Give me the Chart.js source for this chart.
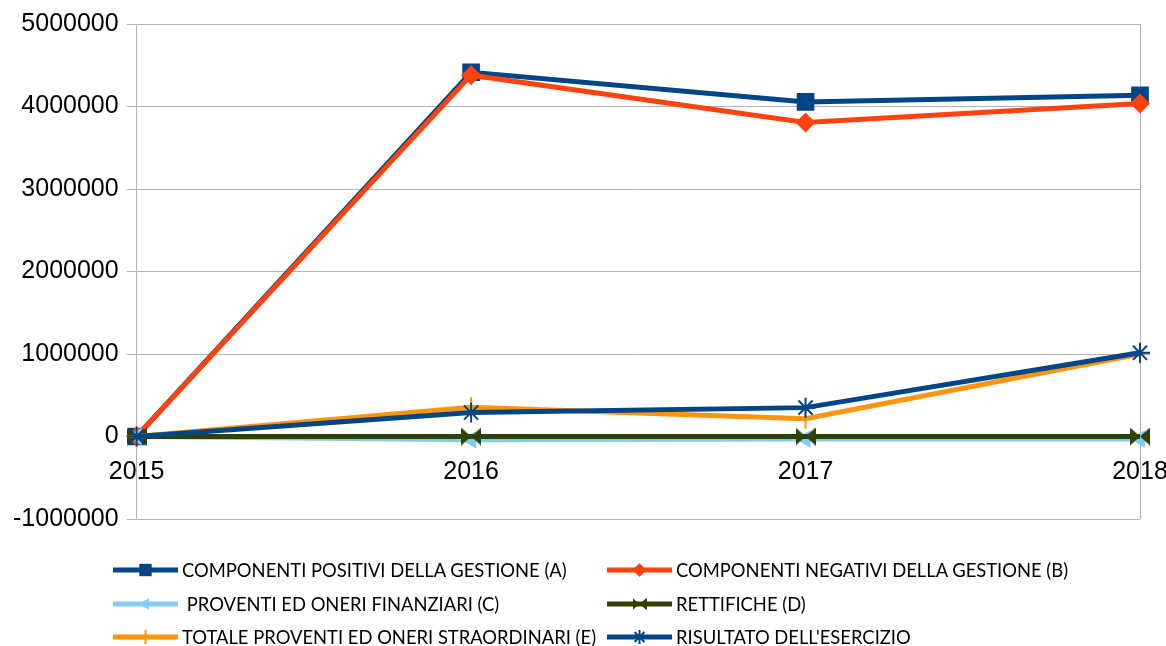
<!DOCTYPE html>
<html><head><meta charset="utf-8">
<script src="https://cdn.jsdelivr.net/npm/chart.js@4/dist/chart.umd.min.js"></script>
<style>
html,body{margin:0;padding:0;background:#fff;}
#wrap{position:relative;width:1166px;height:646px;overflow:hidden;}
#c{position:absolute;left:0;top:0;}
.leg{position:absolute;display:flex;align-items:center;height:24px;font-family:Lato,'Liberation Sans',sans-serif;font-size:18.4px;color:#000;white-space:pre;}
.leg canvas{display:block;margin-right:4px;}
</style></head><body>
<div id="wrap"><canvas id="c" width="1166" height="646"></canvas></div>
<script>
// ---- data ----
const years = ['2015', '2016', '2017', '2018'];
const seriesNames = [
  'COMPONENTI POSITIVI DELLA GESTIONE (A)',
  'COMPONENTI NEGATIVI DELLA GESTIONE (B)',
  ' PROVENTI ED ONERI FINANZIARI (C)',
  'RETTIFICHE (D)',
  'TOTALE PROVENTI ED ONERI STRAORDINARI (E)',
  "RISULTATO DELL'ESERCIZIO"
];
const componentiPositivi = [0, 4415000, 4055000, 4135000];
const componentiNegativi = [0, 4380000, 3805000, 4035000];
const proventiFinanziari = [0, -40000, -30000, -30000];
const rettifiche = [0, 0, 0, 0];
const proventiStraordinari = [0, 355000, 215000, 1000000];
const risultato = [0, 290000, 350000, 1015000];
const yMin = -1000000, yMax = 5000000, yStep = 1000000;

// ---- styles ----
const colors = ['#004586', '#ff420e', '#83caff', '#314004', '#ff950e', '#004586'];

function bowtie(color, w, h) {
  const c = document.createElement('canvas');
  c.width = w; c.height = h;
  const g = c.getContext('2d');
  g.fillStyle = color;
  g.beginPath();
  g.moveTo(0, 0); g.lineTo(w / 2, h / 2); g.lineTo(0, h); g.closePath();
  g.moveTo(w, 0); g.lineTo(w / 2, h / 2); g.lineTo(w, h); g.closePath();
  g.fill();
  return c;
}

const markers = [
  {style: 'rect', radius: 12.5, rot: 0, bw: 0},
  {style: 'rectRot', radius: 10, rot: 0, bw: 0},
  {style: 'triangle', radius: 10, rot: -90, bw: 0},
  {style: bowtie(colors[3], 20, 18), radius: 10, rot: 0, bw: 0},
  {style: 'cross', radius: 10, rot: 0, bw: 2},
  {style: 'star', radius: 10, rot: 0, bw: 2}
];
const seriesValues = [componentiPositivi, componentiNegativi, proventiFinanziari, rettifiche, proventiStraordinari, risultato];

const datasets = seriesValues.map((vals, i) => ({
  label: seriesNames[i],
  data: vals,
  borderColor: colors[i],
  backgroundColor: colors[i],
  borderWidth: 5,
  tension: 0,
  fill: false,
  pointStyle: markers[i].style,
  pointRadius: markers[i].radius,
  pointHoverRadius: markers[i].radius,
  pointRotation: markers[i].rot,
  pointBorderWidth: markers[i].bw,
  pointBorderColor: colors[i],
  pointBackgroundColor: colors[i],
  order: seriesValues.length - i
}));

const gridColor = '#b3b3b3';
new Chart(document.getElementById('c'), {
  type: 'line',
  data: {labels: years, datasets},
  options: {
    responsive: false,
    animation: false,
    devicePixelRatio: 1,
    layout: {padding: {left: 5, right: 26, top: 24, bottom: 127}},
    plugins: {legend: {display: false}, tooltip: {enabled: false}},
    scales: {
      x: {
        position: {y: 0},
        offset: false,
        afterFit: s => { s.paddingRight = 0; },
        grid: {
          drawTicks: false,
          color: ctx => (ctx.index === 0 || ctx.index === years.length - 1) ? gridColor : 'rgba(0,0,0,0)',
          lineWidth: 1
        },
        border: {display: true, color: gridColor, width: 1},
        ticks: {color: '#000', font: {family: "'Liberation Sans', Arial, sans-serif", size: 25}, padding: 21, maxRotation: 0, autoSkip: false}
      },
      y: {
        min: yMin, max: yMax,
        grid: {color: gridColor, lineWidth: 1, tickLength: 10, drawTicks: true},
        border: {display: true, color: gridColor, width: 1},
        ticks: {
          stepSize: yStep,
          color: '#000',
          padding: 8,
          font: {family: "'Liberation Sans', Arial, sans-serif", size: 25},
          callback: v => String(v)
        }
      }
    }
  }
});

// ---- legend (HTML, two columns) ----
const legPos = [
  {x: 113, y: 570}, {x: 607, y: 570},
  {x: 113, y: 604}, {x: 607, y: 604},
  {x: 113, y: 637}, {x: 607, y: 637}
];
const wrap = document.getElementById('wrap');
seriesNames.forEach((name, i) => {
  const d = document.createElement('div');
  d.className = 'leg';
  d.style.left = legPos[i].x + 'px';
  d.style.top = (legPos[i].y - 12) + 'px';
  const ic = document.createElement('canvas');
  ic.width = 65; ic.height = 22;
  const g = ic.getContext('2d');
  g.strokeStyle = colors[i]; g.fillStyle = colors[i];
  g.lineWidth = 5;
  g.beginPath(); g.moveTo(0, 11); g.lineTo(65, 11); g.stroke();
  const m = markers[i];
  if (typeof m.style !== 'string') {
    g.drawImage(m.style, 32.5 - 7, 11 - 6, 14, 12);
  } else if (window.Chart && Chart.helpers && Chart.helpers.drawPoint) {
    g.lineWidth = m.bw || 0;
    Chart.helpers.drawPoint(g, {pointStyle: m.style, rotation: m.rot, radius: m.radius * 0.7, borderWidth: m.bw}, 32.5, 11);
  }
  d.appendChild(ic);
  const t = document.createElement('span');
  t.textContent = name;
  d.appendChild(t);
  wrap.appendChild(d);
});
</script>
</body></html>
